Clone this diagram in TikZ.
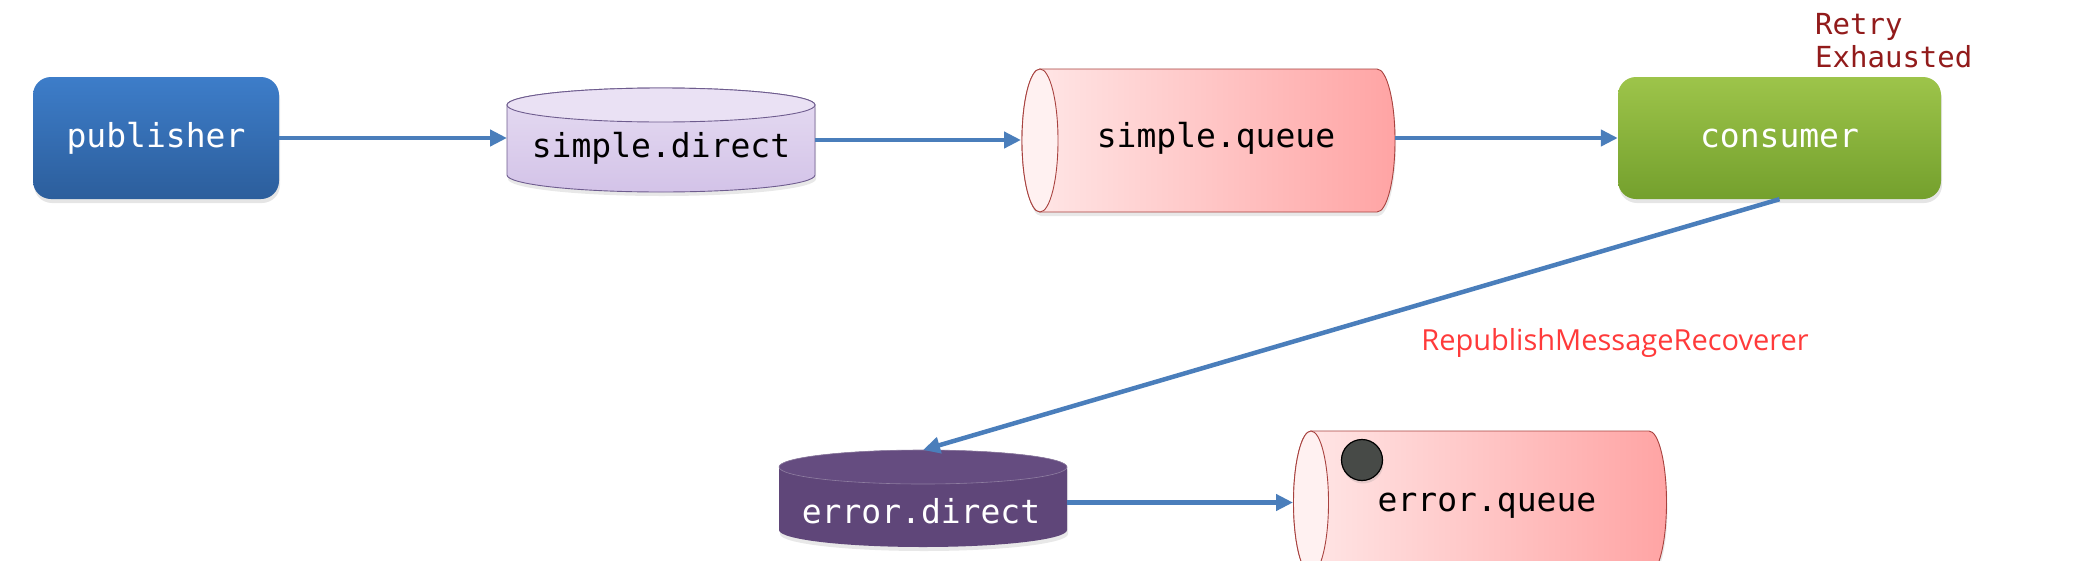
\documentclass[tikz,border=0pt]{standalone}
\usepackage{fontspec}
\newfontfamily\monofont{DejaVu Sans Mono}
\newfontfamily\labelfont{Open Sans}
\usetikzlibrary{arrows.meta,shadows}
\definecolor{arrowblue}{HTML}{4A7EBB}
\definecolor{pubtop}{HTML}{3D7DC9}
\definecolor{pubbot}{HTML}{2C5E9C}
\definecolor{constop}{HTML}{9DC44A}
\definecolor{consbot}{HTML}{74A02D}
\definecolor{lavtop}{HTML}{EAE1F4}
\definecolor{lavbody}{HTML}{E6DCF2}
\definecolor{lavbot}{HTML}{D3C3E8}
\definecolor{lavline}{HTML}{6E5C8E}
\definecolor{purplebody}{HTML}{5F4679}
\definecolor{purpletop}{HTML}{654C80}
\definecolor{pinkleft}{HTML}{FFE8E8}
\definecolor{pinkright}{HTML}{FFA4A4}
\definecolor{pinkend}{HTML}{FFF1F1}
\definecolor{pinkline}{HTML}{A8423F}
\definecolor{retryred}{HTML}{921B1B}
\definecolor{recred}{HTML}{FF3A3A}
\definecolor{dotgrey}{HTML}{474A47}
\begin{document}
\begin{tikzpicture}[x=1pt,y=1pt,
  arr/.style={draw=arrowblue, line width=4.5pt, -{Triangle[length=17pt,width=16pt]}},
  mono/.style={font=\monofont\fontsize{33}{40}\selectfont},
  boxnode/.style={mono, rounded corners=18pt, inner sep=0pt, text=white,
    minimum height=122pt,
    drop shadow={shadow xshift=1pt, shadow yshift=-4pt, opacity=0.2}},
  spot/.style={inner sep=0pt, outer sep=0pt, draw=none},
  softshadow/.style={drop shadow={shadow xshift=1pt, shadow yshift=-4pt, opacity=0.18}},
  qline/.style={draw=pinkline, line width=0.9pt}
]
\useasboundingbox (0,0) rectangle (2080,-560);
\clip (0,0) rectangle (2080,-560);
\fill[white] (0,0) rectangle (2080,-560);

% publisher
\node[boxnode, minimum width=246pt, top color=pubtop, bottom color=pubbot] (pub) at (156,-138) {publisher};

% consumer
\node[boxnode, minimum width=323pt, top color=constop, bottom color=consbot] (cons) at (1779.5,-138) {consumer};

% simple.direct (vertical cylinder)
\path[softshadow, top color=lavbody, bottom color=lavbot, draw=lavline, line width=0.9pt]
  (507,-105) -- (507,-175) arc[start angle=180, end angle=360, x radius=154pt, y radius=17pt]
  -- (815,-105) arc[start angle=0, end angle=180, x radius=154pt, y radius=17pt] -- cycle;
\draw[fill=lavtop, draw=lavline, line width=0.9pt] (661,-105) ellipse[x radius=154pt, y radius=17pt];
\node[spot, minimum width=308pt, minimum height=104pt] (sd) at (661,-140) {};
\node[mono] (sdtext) at (661,-148) {simple.direct};

% simple.queue (horizontal cylinder)
\path[softshadow, left color=pinkleft, right color=pinkright, qline]
  (1040,-69) -- (1377,-69) arc[start angle=90, end angle=-90, x radius=18pt, y radius=71.5pt]
  -- (1040,-212) arc[start angle=270, end angle=90, x radius=18pt, y radius=71.5pt] -- cycle;
\draw[fill=pinkend, qline] (1040,-140.5) ellipse[x radius=18pt, y radius=71.5pt];
\node[spot, minimum width=374pt, minimum height=143pt] (sq) at (1208,-140.5) {};
\node[mono] (sqtext) at (1216,-138) {simple.queue};

% Retry Exhausted
\node[mono, font=\monofont\fontsize{29}{33}\selectfont, text=retryred, align=left, anchor=north west, inner sep=0pt] (retry) at (1815,-13) {Retry\\Exhausted};

% error.direct (vertical cylinder)
\path[softshadow, fill=purplebody]
  (779,-467) -- (779,-530) arc[start angle=180, end angle=360, x radius=144pt, y radius=17pt]
  -- (1067,-467) arc[start angle=0, end angle=180, x radius=144pt, y radius=17pt] -- cycle;
\draw[fill=purpletop, draw=purplebody!70!white, line width=0.6pt] (923,-467) ellipse[x radius=144pt, y radius=17pt];
\node[spot, minimum width=288pt, minimum height=97pt] (ed) at (923,-498.5) {};
\node[mono, text=white] (edtext) at (921,-511) {error.direct};

% error.queue (horizontal cylinder)
\path[softshadow, left color=pinkleft, right color=pinkright, qline]
  (1311,-431) -- (1649,-431) arc[start angle=90, end angle=-90, x radius=17.5pt, y radius=71.5pt]
  -- (1311,-574) arc[start angle=270, end angle=90, x radius=17.5pt, y radius=71.5pt] -- cycle;
\draw[fill=pinkend, qline] (1311,-502.5) ellipse[x radius=17.5pt, y radius=71.5pt];
\node[spot, minimum width=373pt, minimum height=143pt] (eq) at (1479.5,-502.5) {};
\node[mono] (eqtext) at (1487,-506) {error.queue};
\node[circle, minimum size=41pt, inner sep=0pt, fill=dotgrey, draw=black, line width=1.2pt,
  drop shadow={shadow xshift=1pt, shadow yshift=-3pt, opacity=0.2}] (dot) at (1362,-460) {};

% label
\node[font=\labelfont\fontsize{29}{34}\selectfont, text=recred] (rec) at (1615,-343) {RepublishMessageRecoverer};

% connectors
\draw[arr] (pub.east) -- (pub.east -| sd.west);
\draw[arr] (sd.east) -- (sd.east -| sq.west);
\draw[arr] (sq.east |- cons.west) -- (cons.west);
\draw[arr] (cons.south) -- (ed.north);
\draw[arr] (ed.east |- eq.west) -- (eq.west);
\end{tikzpicture}
\end{document}
